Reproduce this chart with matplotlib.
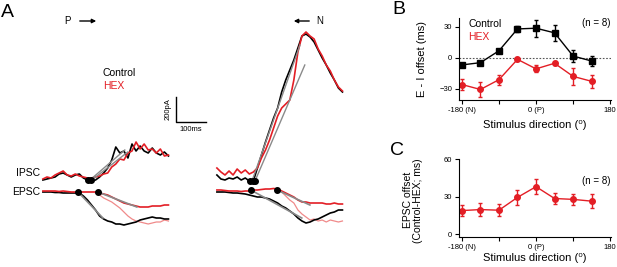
import numpy as np
import matplotlib
matplotlib.use('Agg')
import matplotlib.pyplot as plt

plt.rcParams['font.family'] = ['Liberation Sans', 'DejaVu Sans']

RED = '#e31e25'
PINK = '#f08a8a'
GRAY = '#8a8a8a'

# ---- panel A traces (ms, pA) ----
t_ms = np.arange(32) * 13.5

# preferred (P) direction, left group
ipsc_ctl_P = [0, 8, 16, 24, 48, 56, 40, 24, 40, 48, 16, 0, -8, 0, 24, 56, 96, 160, 264, 216, 232, 176,
              288, 232, 272, 232, 216, 256, 216, 200, 224, 192]
ipsc_hex_P = [8, 24, 16, 40, 56, 72, 40, 32, 48, 32, 24, 16, 16, 24, 32, 48, 56, 104, 128, 168, 160, 216,
              232, 304, 248, 288, 240, 248, 216, 248, 192, 200]
epsc_ctl_P = [0, 0, 0, -4, -4, -8, -8, -8, -8, -8, -32, -64, -104, -144, -192, -216, -232, -240, -256, -256,
              -264, -256, -248, -240, -224, -216, -208, -200, -208, -208, -216, -216]
epsc_hex_P = [8, 8, 8, 8, 4, 8, 4, 0, 0, 0, 0, 0, 0, 0, -8, -16, -24, -40, -56, -72, -88, -96, -104, -112,
              -120, -120, -120, -112, -112, -112, -104, -104]
epsc_shift_P = [np.nan] * 13 + [-8, -24, -48, -64, -80, -104, -128, -160, -192, -216, -232, -240, -248,
                                -256, -248, -240, -240, -224, -232]

# null (N) direction, right group
ipsc_ctl_N = [40, 8, 0, 16, 8, 24, 0, 16, -8, -8, 96, 200, 304, 400, 496, 576, 704, 800, 880, 960, 1056,
              1152, 1168, 1144, 1104, 1040, 976, 920, 856, 800, 736, 704]
ipsc_hex_N = [96, 64, 40, 72, 40, 88, 56, 80, 48, 64, 96, 176, 240, 320, 416, 512, 576, 608, 640, 800, 1024,
              1152, 1184, 1152, 1128, 1048, 992, 920, 872, 800, 744, 712]
epsc_ctl_N = [0, 0, 0, -4, -8, -8, -12, -16, -24, -32, -40, -40, -48, -56, -72, -88, -112, -128, -152, -176,
              -208, -232, -248, -240, -224, -216, -200, -184, -168, -160, -144, -144]
epsc_hex_N = [16, 16, 12, 8, 8, 8, 4, 8, 8, 16, 16, 20, 24, 24, 28, 24, 8, -8, -24, -40, -64, -80, -80, -88,
              -88, -88, -88, -96, -96, -88, -96, -96]
epsc_shift_N = [np.nan] * 16 + [0, -32, -64, -88, -144, -176, -200, -224, -216, -232, -224, -240, -224,
                                -232, -240, -232]

# onset markers and fitted slopes (ms, pA)
ipsc_fit_P = [([157, 273], [0, 240]), ([163, 283], [0, 224])]
epsc_fit_P = [([117, 200], [0, -208]), ([183, 313], [0, -120])]
ipsc_fit_N = [([117, 277], [-8, 1080]), ([127, 293], [-8, 920])]
epsc_fit_N = [([113, 283], [16, -208]), ([200, 310], [16, -104])]
ipsc_on_P = [150, 160]
ipsc_on_N = [110, 120, 128]
epsc_on_P = [117, 183]
epsc_on_N = [113, 200]

# ---- panels B, C ----
direction = [-180, -135, -90, -45, 0, 45, 90, 135]
ei_ctl = [-7, -4.8, 6.7, 27.9, 28.6, 24.1, 1.6, -3.2]
ei_ctl_err = [2, 2, 2, 3, 8.4, 8, 6, 5]
ei_hex = [-26, -30.8, -21.3, -1.6, -10.8, -5.4, -18.1, -22.9]
ei_hex_err = [5, 7.5, 5, 1.5, 3.5, 1.5, 8.5, 6]
epsc_off = [19.0, 19.8, 19.3, 29.5, 38.0, 28.6, 27.9, 26.5]
epsc_off_err = [4.4, 5, 4.8, 6, 5.9, 4.5, 4.4, 5.6]
xtick_vals = [-180, -90, 0, 90, 180]
xtick_labels = ['-180 (N)', '', '0 (P)', '', '180']

fig = plt.figure(figsize=(6.17, 2.67), dpi=100)
W, H = 617.0, 267.0

# ---------------- panel A ----------------
axA = fig.add_axes([0, 0, 345 / W, 1])
axA.set_xlim(-143, 1007)
axA.set_ylim(-696, 1440)
axA.axis('off')

epsc_base = -96
shift_N = 580
lw = 1.2
for shift, ic, ih, ec, eh, es, ifit, efit, ion, eon in [
        (0, ipsc_ctl_P, ipsc_hex_P, epsc_ctl_P, epsc_hex_P, epsc_shift_P, ipsc_fit_P, epsc_fit_P, ipsc_on_P, epsc_on_P),
        (shift_N, ipsc_ctl_N, ipsc_hex_N, epsc_ctl_N, epsc_hex_N, epsc_shift_N, ipsc_fit_N, epsc_fit_N, ipsc_on_N, epsc_on_N)]:
    tt = t_ms + shift
    axA.plot(tt, ic, color='black', lw=lw)
    axA.plot(tt, ih, color=RED, lw=lw)
    axA.plot(tt, np.array(es) + epsc_base, color=PINK, lw=0.9)
    axA.plot(tt, np.array(ec) + epsc_base, color='black', lw=lw)
    axA.plot(tt, np.array(eh) + epsc_base, color=RED, lw=lw)
    for fx, fy in ifit:
        axA.plot(np.array(fx) + shift, fy, color=GRAY, lw=1)
    for fx, fy in efit:
        axA.plot(np.array(fx) + shift, np.array(fy) + epsc_base, color=GRAY, lw=1.2)
    axA.plot(np.array(ion) + shift, [ifit[0][1][0]] * len(ion), 'o', color='black', ms=4)
    axA.plot(np.array(eon) + shift, [efit[0][1][0] + epsc_base] * len(eon), 'o', color='black', ms=4)

# scale bar
axA.plot([443, 443, 543], [664, 464, 464], color='black', lw=1)
axA.text(430, 564, '200pA', rotation=90, ha='right', va='center', fontsize=5.5)
axA.text(493, 430, '100ms', ha='center', va='top', fontsize=5.5)

axA.text(-9, 56, 'IPSC', ha='right', va='center', fontsize=7.5)
axA.text(-9, -96, 'EPSC', ha='right', va='center', fontsize=7.5)
axA.text(200, 856, 'Control', color='black', fontsize=7.5, va='center')
axA.text(200, 752, 'HEX', color=RED, fontsize=7.5, va='center')

fig.text(1 / W, 1 - 4 / H, 'A', fontsize=14, va='top')
fig.text(67 / W, 1 - 21 / H, 'P', fontsize=7, ha='center', va='center')
fig.text(320 / W, 1 - 21 / H, 'N', fontsize=7, ha='center', va='center')
axA.annotate('', xy=(99 / W, 1 - 21 / H), xytext=(77 / W, 1 - 21 / H), xycoords='figure fraction',
             arrowprops=dict(arrowstyle='-|>', color='black', lw=1, mutation_scale=6))
axA.annotate('', xy=(291 / W, 1 - 21 / H), xytext=(312 / W, 1 - 21 / H), xycoords='figure fraction',
             arrowprops=dict(arrowstyle='-|>', color='black', lw=1, mutation_scale=6))


def style_axis(ax):
    for s in ['top', 'right']:
        ax.spines[s].set_visible(False)
    ax.spines['left'].set_linewidth(0.8)
    ax.spines['bottom'].set_linewidth(0.8)
    ax.tick_params(direction='out', length=3, width=0.8, labelsize=5.5, pad=2)
    ax.set_xlim(-187, 182)
    ax.set_xticks(xtick_vals)
    ax.set_xticklabels(xtick_labels)


# ---------------- panel B ----------------
axB = fig.add_axes([459 / W, 1 - 100 / H, 152 / W, 82 / H])
style_axis(axB)
axB.set_ylim(-41, 38.5)
axB.set_yticks([-30, 0, 30])
axB.axhline(0, color='#555555', lw=0.8, ls=(0, (1.5, 1.5)))
axB.errorbar(direction, ei_ctl, yerr=ei_ctl_err, color='black', lw=1, marker='s', ms=4.5,
             capsize=1.5, elinewidth=1, capthick=1)
axB.errorbar(direction, ei_hex, yerr=ei_hex_err, color=RED, lw=1, marker='o', ms=4,
             capsize=1.5, elinewidth=1, capthick=1)
axB.set_ylabel('E - I offset (ms)', fontsize=8)
axB.yaxis.set_label_coords(-0.21, 0.5)
axB.set_xlabel('Stimulus direction (\u2070)', fontsize=8)
axB.xaxis.set_label_coords(0.5, -0.24)
axB.text(0.06, 0.93, 'Control', transform=axB.transAxes, fontsize=7.5, va='center')
axB.text(0.06, 0.77, 'HEX', transform=axB.transAxes, color=RED, fontsize=7.5, va='center')
axB.text(1.0, 1.0, '(n = 8)', transform=axB.transAxes, fontsize=7, ha='right', va='top')
fig.text(392 / W, 1 - 1 / H, 'B', fontsize=14, va='top')

# ---------------- panel C ----------------
axC = fig.add_axes([459 / W, 30 / H, 152 / W, 78 / H])
style_axis(axC)
axC.set_ylim(-2, 60)
axC.set_yticks([0, 30, 60])
axC.errorbar(direction, epsc_off, yerr=epsc_off_err, color=RED, lw=1, marker='o', ms=4,
             capsize=1.5, elinewidth=1, capthick=1)
axC.set_ylabel('EPSC offset\n(Control-HEX; ms)', fontsize=7.5, linespacing=1.0)
axC.yaxis.set_label_coords(-0.235, 0.47)
axC.set_xlabel('Stimulus direction (\u2070)', fontsize=8)
axC.xaxis.set_label_coords(0.5, -0.2)
axC.text(1.0, 0.72, '(n = 8)', transform=axC.transAxes, fontsize=7, ha='right', va='center')
fig.text(390 / W, 1 - 142 / H, 'C', fontsize=14, va='top')

fig.savefig('out.png', dpi=100)
